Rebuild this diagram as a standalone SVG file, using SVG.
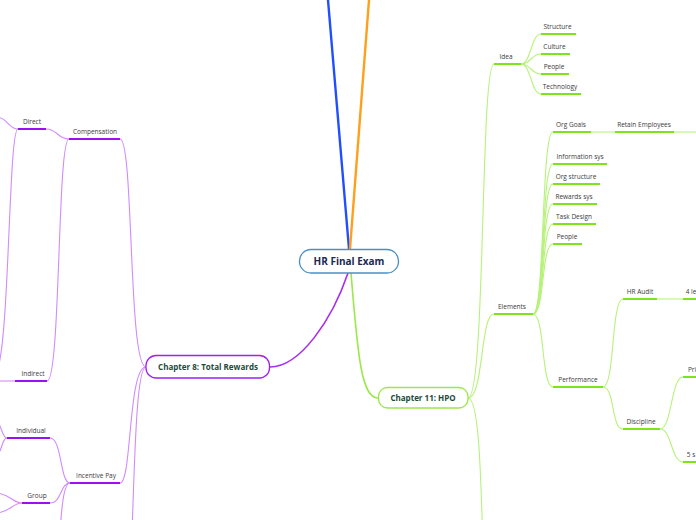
<svg xmlns="http://www.w3.org/2000/svg" width="696" height="520" viewBox="0 0 696 520">
<style>
.lbl{font-family:"Open Sans","Noto Sans",sans-serif;font-size:6.5px;fill:#3a3a3a;text-anchor:middle}
.pl{fill:none;stroke:#cf8bff;stroke-width:1.1}
.gl{fill:none;stroke:#b6f27a;stroke-width:1.1}
.pu{stroke:#9b10f0;stroke-width:2;fill:none}
.gu{stroke:#7de31a;stroke-width:2;fill:none}
.chap{font-family:"Open Sans","Noto Sans",sans-serif;font-weight:bold;font-size:8px;fill:#1d4a3c;text-anchor:middle}
</style>
<rect width="696" height="520" fill="#ffffff"/>
<g id="connectors">
  <line x1="349" y1="249" x2="328" y2="0" stroke="#1f4fff" stroke-width="2.4"/>
  <line x1="350" y1="249" x2="369" y2="0" stroke="#ff9f1c" stroke-width="2.4"/>
  <path d="M348 273 C332 320 300 367 270 367" fill="none" stroke="#a62ef2" stroke-width="1.6"/>
  <path d="M351 273 C358 360 362 398 378 398" fill="none" stroke="#9ae84a" stroke-width="1.6"/>
  <!-- left purple -->
  <path class="pl" d="M146 367 C128 367 134 139 120 139"/>
  <path class="pl" d="M146 367 C128 367 132 483 120 483"/>
  <path class="pl" d="M146 367 C130 367 136 620 122 640"/>
  <path class="pl" d="M69 139 C57 139 58 129 46 129"/>
  <path class="pl" d="M69 139 C57 139 61 381 47 381"/>
  <path class="pl" d="M18 129 C8 129 8 117 -5 117"/>
  <path class="pl" d="M18 129 C8 129 10 360 -5 375"/>
  <path class="pl" d="M15 381 L-5 381"/>
  <path class="pl" d="M7 438 C2 438 2 425 -5 418"/>
  <path class="pl" d="M7 438 C2 438 2 452 -5 460"/>
  <path class="pl" d="M70 483 C60 483 62 438 50 438"/>
  <path class="pl" d="M70 483 C60 483 62 503 50 503"/>
  <path class="pl" d="M70 483 C62 483 61 520 57 570"/>
  <path class="pl" d="M22 503 C12 503 10 493 -5 493"/>
  <path class="pl" d="M22 503 C12 503 10 513 -5 513"/>
  <!-- right green -->
  <path class="gl" d="M468 398 C486 398 480 64 494 64"/>
  <path class="gl" d="M468 398 C484 398 480 314 494 314"/>
  <path class="gl" d="M468 398 C482 398 481 520 485 600"/>
  <path class="gl" d="M521 64 C531 64 531 34 541 34"/>
  <path class="gl" d="M521 64 C531 64 531 54 541 54"/>
  <path class="gl" d="M521 64 C531 64 531 74 541 74"/>
  <path class="gl" d="M521 64 C531 64 531 94 541 94"/>
  <path class="gl" d="M533 314 C545 314 541 132 553 132"/>
  <path class="gl" d="M533 314 C545 314 541 164 553 164"/>
  <path class="gl" d="M533 314 C545 314 541 184 553 184"/>
  <path class="gl" d="M533 314 C545 314 541 204 553 204"/>
  <path class="gl" d="M533 314 C545 314 541 224 553 224"/>
  <path class="gl" d="M533 314 C545 314 541 244 553 244"/>
  <path class="gl" d="M533 314 C545 314 541 387 553 387"/>
  <path class="gl" d="M591 132 L615 132"/>
  <path class="gl" d="M674 132 L696 132"/>
  <path class="gl" d="M603 387 C615 387 611 299 623 299"/>
  <path class="gl" d="M603 387 C615 387 611 429 623 429"/>
  <path class="gl" d="M657 299 L683 299"/>
  <path class="gl" d="M660 429 C672 429 671 377 683 377"/>
  <path class="gl" d="M660 429 C672 429 671 462 683 462"/>
</g>
<g id="root">
  <rect x="299.5" y="249.5" width="99" height="23.5" rx="11.5" fill="#fff" stroke="#4a90c8" stroke-width="1.3"/>
  <text x="349" y="265" font-family="Open Sans,Noto Sans,sans-serif" font-weight="bold" font-size="10" fill="#1a2a52" text-anchor="middle">HR Final Exam</text>
</g>
<g id="ch8">
  <rect x="146" y="355.5" width="123.5" height="22.5" rx="10" fill="#fff" stroke="#a020f0" stroke-width="1.3"/>
  <text class="chap" x="208" y="370">Chapter 8: Total Rewards</text>
</g>
<g id="ch11">
  <rect x="378.5" y="387.5" width="89.5" height="20.5" rx="9" fill="#fff" stroke="#9ae84a" stroke-width="1.3"/>
  <text class="chap" x="423" y="401">Chapter 11: HPO</text>
</g>
<g id="compensation"><line class="pu" x1="69" y1="139" x2="120" y2="139"/><text class="lbl" x="95" y="134">Compensation</text></g>
<g id="direct"><line class="pu" x1="18" y1="129" x2="46" y2="129"/><text class="lbl" x="32" y="124">Direct</text></g>
<g id="indirect"><line class="pu" x1="15" y1="381" x2="47" y2="381"/><text class="lbl" x="33" y="376">Indirect</text></g>
<g id="incentive"><line class="pu" x1="70" y1="483" x2="120" y2="483"/><text class="lbl" x="96" y="478">Incentive Pay</text></g>
<g id="individual"><line class="pu" x1="7" y1="438" x2="50" y2="438"/><text class="lbl" x="31" y="433">Individual</text></g>
<g id="group"><line class="pu" x1="22" y1="503" x2="50" y2="503"/><text class="lbl" x="37" y="498">Group</text></g>
<g id="idea"><line class="gu" x1="494" y1="64" x2="521" y2="64"/><text class="lbl" x="506" y="59">Idea</text></g>
<g id="structure"><line class="gu" x1="541" y1="34" x2="576" y2="34"/><text class="lbl" x="557.5" y="29">Structure</text></g>
<g id="culture"><line class="gu" x1="541" y1="54" x2="570" y2="54"/><text class="lbl" x="554.5" y="49">Culture</text></g>
<g id="people1"><line class="gu" x1="541" y1="74" x2="569" y2="74"/><text class="lbl" x="554" y="69">People</text></g>
<g id="technology"><line class="gu" x1="541" y1="94" x2="581" y2="94"/><text class="lbl" x="560" y="89">Technology</text></g>
<g id="elements"><line class="gu" x1="494" y1="314" x2="533" y2="314"/><text class="lbl" x="512" y="309">Elements</text></g>
<g id="orggoals"><line class="gu" x1="553" y1="132" x2="591" y2="132"/><text class="lbl" x="571" y="127">Org Goals</text></g>
<g id="retain"><line class="gu" x1="615" y1="132" x2="674" y2="132"/><text class="lbl" x="644" y="127">Retain Employees</text></g>
<g id="infosys"><line class="gu" x1="553" y1="164" x2="607" y2="164"/><text class="lbl" x="580" y="159">Information sys</text></g>
<g id="orgstructure"><line class="gu" x1="553" y1="184" x2="600" y2="184"/><text class="lbl" x="576" y="179">Org structure</text></g>
<g id="rewardssys"><line class="gu" x1="553" y1="204" x2="597" y2="204"/><text class="lbl" x="574" y="199">Rewards sys</text></g>
<g id="taskdesign"><line class="gu" x1="553" y1="224" x2="596" y2="224"/><text class="lbl" x="574" y="219">Task Design</text></g>
<g id="people2"><line class="gu" x1="553" y1="244" x2="582" y2="244"/><text class="lbl" x="567" y="239">People</text></g>
<g id="performance"><line class="gu" x1="553" y1="387" x2="603" y2="387"/><text class="lbl" x="578" y="382">Performance</text></g>
<g id="hraudit"><line class="gu" x1="623" y1="299" x2="657" y2="299"/><text class="lbl" x="640" y="294">HR Audit</text></g>
<g id="fourle"><line class="gu" x1="683" y1="299" x2="696" y2="299"/><text class="lbl" x="691" y="294">4 le</text></g>
<g id="discipline"><line class="gu" x1="623" y1="429" x2="660" y2="429"/><text class="lbl" x="641" y="424">Discipline</text></g>
<g id="pri"><line class="gu" x1="683" y1="377" x2="696" y2="377"/><text class="lbl" x="692" y="372">Pri</text></g>
<g id="fives"><line class="gu" x1="683" y1="462" x2="696" y2="462"/><text class="lbl" x="691" y="457">5 s</text></g>
</svg>
